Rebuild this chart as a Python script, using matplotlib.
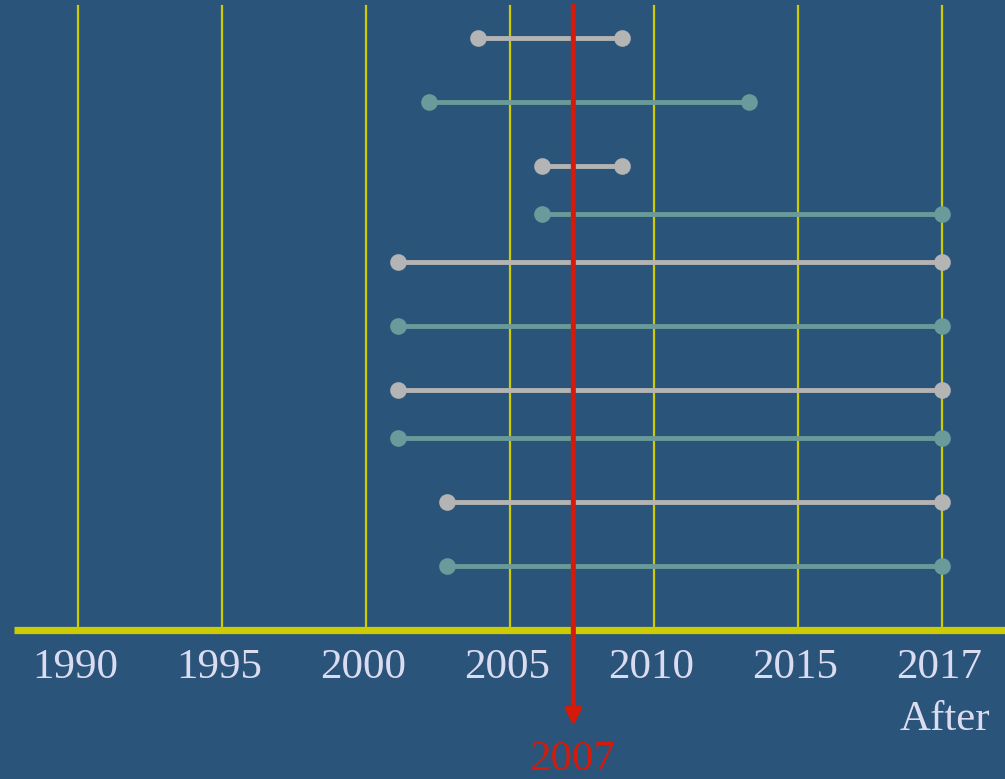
import numpy as np
import matplotlib
matplotlib.use('Agg')
import matplotlib.pyplot as plt

# Timeline data (x in year positions, 2020 slot = "2017 / After")
tick_pos = [1990, 1995, 2000, 2005, 2010, 2015, 2020]
tick_labels = ['1990', '1995', '2000', '2005', '2010', '2015', '2017']
row_y = [37, 33, 29, 26, 23, 19, 15, 12, 8, 4]
start_year = [2003.9, 2002.2, 2006.1, 2006.1, 2001.1, 2001.1, 2001.1, 2001.1, 2002.8, 2002.8]
end_year = [2008.9, 2013.3, 2008.9, 2020, 2020, 2020, 2020, 2020, 2020, 2020]
marker_year = 2007.2
marker_label = '2007'

bg = '#2a5479'
yellow = '#cccc00'
red = '#d41a0a'
gray = '#b4b4b4'
teal = '#6a9a9a'
txt = '#dcdcf0'
row_colors = [gray, teal] * 5

fig = plt.figure(figsize=(10.05, 7.79), dpi=100)
fig.patch.set_facecolor(bg)
ax = fig.add_axes([0, 0, 1, 1])
ax.set_facecolor(bg)
ax.set_xlim(1987.29, 2022.19)
ax.set_ylim(-9.31, 39.375)
ax.axis('off')

# vertical grid lines
for x in tick_pos:
    ax.plot([x, x], [0, 39.0], color=yellow, lw=1.6, zorder=1)

# base axis line
ax.plot([1987.78, 2022.19], [0, 0], color=yellow, lw=5.2, solid_capstyle='butt', zorder=2)

# tick labels
font = ['Liberation Serif', 'DejaVu Serif']
for x, lab in zip(tick_pos, tick_labels):
    ax.text(x - 0.1, -2.35, lab, color=txt, fontsize=31, family=font, ha='center', va='center')
ax.text(2020.1, -5.6, 'After', color=txt, fontsize=31, family=font, ha='center', va='center')

# segments
for y, s, e, c in zip(row_y, start_year, end_year, row_colors):
    ax.plot([s, e], [y, y], color=c, lw=3.5, solid_capstyle='butt', zorder=3)
    ax.plot([s, e], [y, y], 'o', color=c, ms=12, mec='none', zorder=5)

# red reference line with arrow
ax.annotate('', xy=(marker_year, -6.0), xytext=(marker_year, 39.0),
            arrowprops=dict(arrowstyle='-|>', color=red, lw=3.6,
                            mutation_scale=22, shrinkA=0, shrinkB=0),
            zorder=4)
ax.text(marker_year - 0.05, -8.1, marker_label, color=red, fontsize=31, family=font,
        ha='center', va='center')

fig.savefig('out.png', dpi=100, facecolor=bg)
